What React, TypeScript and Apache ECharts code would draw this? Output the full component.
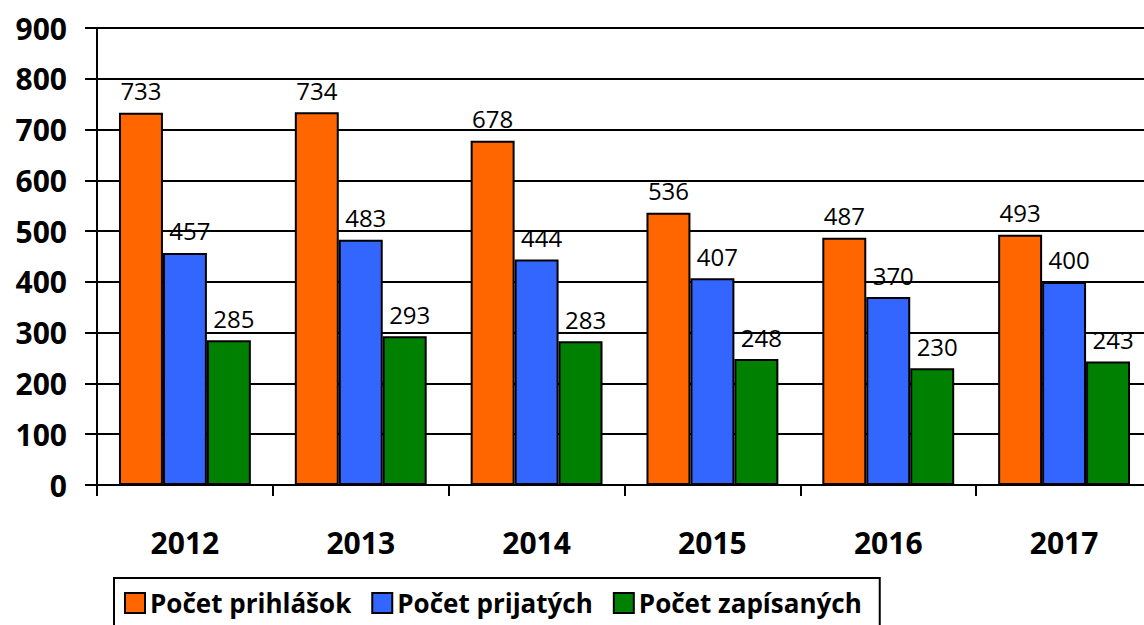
import React, { useEffect, useRef } from "react";
import * as echarts from "echarts";

const years = ["2012", "2013", "2014", "2015", "2016", "2017"];
const prihlasok = [733, 734, 678, 536, 487, 493];
const prijatych = [457, 483, 444, 407, 370, 400];
const zapisanych = [285, 293, 283, 248, 230, 243];
const seriesNames = ["Počet prihlášok", "Počet prijatých", "Počet zapísaných"];
const colors = ["#FF6600", "#3366FF", "#008000"];

const FONT = "'Open Sans', sans-serif";

export default function App() {
  const ref = useRef<HTMLDivElement>(null);
  useEffect(() => {
    if (!ref.current) return;
    const chart = echarts.init(ref.current, null, { renderer: "svg" });
    const values = [prihlasok, prijatych, zapisanych];
    chart.setOption({
      animation: false,
      grid: { left: 97, top: 28, bottom: 140, right: 8, containLabel: false },
      legend: {
        left: 114,
        top: 578,
        data: seriesNames,
        itemWidth: 20,
        itemHeight: 20,
        itemGap: 20,
        icon: "rect",
        borderColor: "#000",
        borderWidth: 2,
        padding: [12, 18, 20, 10],
        itemStyle: { borderColor: "#000", borderWidth: 2 },
        textStyle: { fontFamily: FONT, fontWeight: "bold", fontSize: 26, color: "#000" },
      },
      xAxis: {
        type: "category",
        data: years,
        axisLine: { lineStyle: { color: "#000", width: 2 } },
        axisTick: { show: true, length: 11, lineStyle: { color: "#000", width: 2 } },
        axisLabel: { fontFamily: FONT, fontWeight: "bold", fontSize: 30, color: "#000", margin: 42 },
      },
      yAxis: {
        type: "value",
        min: 0,
        max: 900,
        interval: 100,
        axisLine: { show: true, lineStyle: { color: "#000", width: 2 } },
        axisTick: { show: true, length: 12, lineStyle: { color: "#000", width: 2 } },
        splitLine: { lineStyle: { color: "#000", width: 2 } },
        axisLabel: { fontFamily: FONT, fontWeight: "bold", fontSize: 30, color: "#000", margin: 30 },
      },
      series: seriesNames.map((name, i) => ({
        name,
        type: "bar",
        data: values[i],
        barGap: "0%",
        barCategoryGap: "25%",
        itemStyle: { color: colors[i], borderColor: "#000", borderWidth: 2 },
        label: {
          show: true,
          position: "top",
          distance: 10,
          offset: [i === 0 ? 0 : 5, 0],
          fontFamily: FONT,
          fontSize: 24,
          color: "#000",
        },
      })),
    });
    return () => chart.dispose();
  }, []);
  return (
    <div style={{ position: "absolute", left: 0, top: 0, width: 1144, height: 625, overflow: "hidden" }}>
      <div ref={ref} style={{ width: 1160, height: 625 }} />
    </div>
  );
}
